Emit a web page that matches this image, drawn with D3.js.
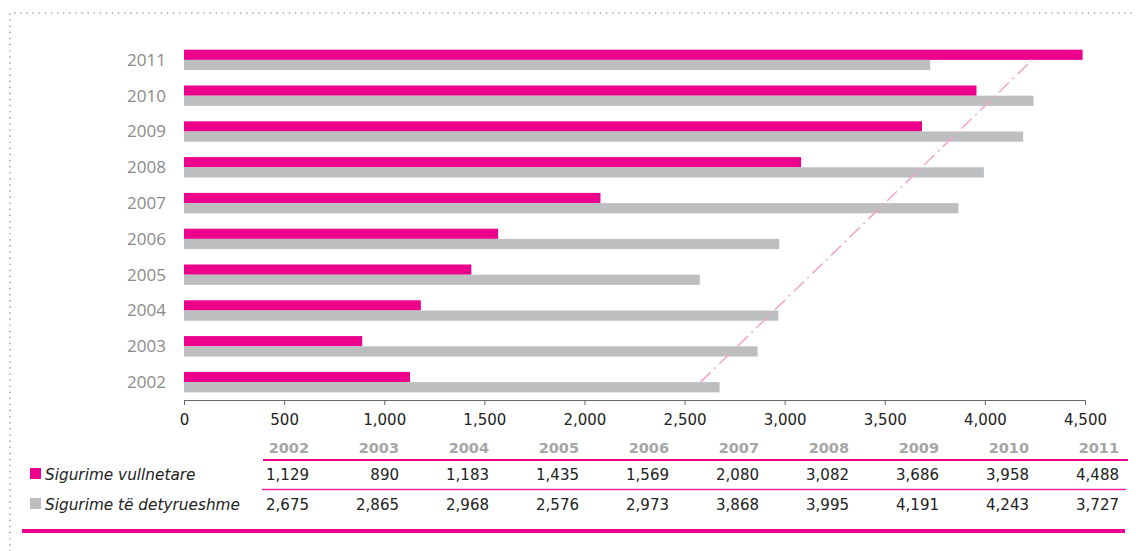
<!DOCTYPE html>
<html>
<head>
<meta charset="utf-8">
<script src="https://cdn.jsdelivr.net/npm/d3@7"></script>
<style>
  body { margin: 0; background: #fff; }
  svg { display: block; font-family: "DejaVu Sans", sans-serif; }
</style>
</head>
<body>
<div id="chart"></div>
<script>
// Daten
const years      = ['2002','2003','2004','2005','2006','2007','2008','2009','2010','2011'];
const vullnetare = [1129, 890, 1183, 1435, 1569, 2080, 3082, 3686, 3958, 4488];
const detyrueshme = [2675, 2865, 2968, 2576, 2973, 3868, 3995, 4191, 4243, 3727];
const seriesNames = ['Sigurime vullnetare', 'Sigurime të detyrueshme'];
const xTicks = [0, 500, 1000, 1500, 2000, 2500, 3000, 3500, 4000, 4500];

const PINK = '#ec008c', GREY = '#bcbec0';
const W = 1136, H = 551;

const svg = d3.select('#chart').append('svg')
  .attr('width', W).attr('height', H);

// gepunkteter Rahmen
svg.append('path')
  .attr('d', `M10,${H} L10,13 L${W},13`)
  .attr('fill', 'none')
  .attr('stroke', '#9a9a9a')
  .attr('stroke-width', 1.6)
  .attr('stroke-linecap', 'round')
  .attr('stroke-dasharray', '0.1,6');

// Skalen
const x = d3.scaleLinear().domain([0, 4500]).range([184, 1085]);
const y = d3.scaleBand().domain(years).range([400, 42]).paddingInner(0.43).paddingOuter(0.215);
const ySub = d3.scaleBand().domain([0, 1]).range([0, y.bandwidth()]);

// Achse unten
const xAxis = svg.append('g')
  .attr('transform', 'translate(0,400)')
  .call(d3.axisBottom(x).tickValues(xTicks).tickSize(5).tickSizeOuter(0).tickFormat(d3.format(',')));
xAxis.select('.domain').attr('stroke', '#666').attr('stroke-width', 1.2);
xAxis.selectAll('.tick line').attr('stroke', '#666');
xAxis.selectAll('.tick text')
  .attr('font-family', '"DejaVu Sans", sans-serif')
  .attr('font-size', 15).attr('fill', '#222').attr('dy', '1.15em');

// Jahreslabels links
svg.append('g').selectAll('text')
  .data(years).join('text')
  .attr('x', 166)
  .attr('y', d => y(d) + y.bandwidth() / 2)
  .attr('dy', '0.35em')
  .attr('text-anchor', 'end')
  .attr('font-family', '"Open Sans", sans-serif')
  .attr('font-size', 17)
  .attr('fill', '#8a8a8a')
  .text(d => d);

// Balken
const groups = svg.append('g').selectAll('g')
  .data(years).join('g')
  .attr('transform', d => `translate(0,${y(d)})`);

groups.append('rect')
  .attr('x', x(0))
  .attr('y', ySub(0))
  .attr('width', (d, i) => x(vullnetare[i]) - x(0))
  .attr('height', ySub.bandwidth())
  .attr('fill', PINK);

groups.append('rect')
  .attr('x', x(0))
  .attr('y', ySub(1))
  .attr('width', (d, i) => x(detyrueshme[i]) - x(0))
  .attr('height', ySub.bandwidth())
  .attr('fill', GREY);

// lineare Trendlinie der grauen Reihe
const n = years.length;
const mx = d3.mean(d3.range(n)), my = d3.mean(detyrueshme);
const slope = d3.sum(d3.range(n), i => (i - mx) * (detyrueshme[i] - my)) / d3.sum(d3.range(n), i => (i - mx) ** 2);
const icpt = my - slope * mx;
const trend = [0, n - 1].map(i => [x(icpt + slope * i), y(years[i]) + y.bandwidth() / 2]);
svg.append('path')
  .attr('d', d3.line()(trend))
  .attr('fill', 'none')
  .attr('stroke', '#f4a7cb')
  .attr('stroke-width', 1.6)
  .attr('stroke-dasharray', '14,5,2,5');

// Datentabelle
const col = d3.scaleBand().domain(years).range([220, 1120]);
const colRight = d => col(d) + col.bandwidth() - 1;

svg.append('g').selectAll('text')
  .data(years).join('text')
  .attr('x', colRight).attr('y', 453)
  .attr('text-anchor', 'end')
  .attr('font-size', 14.5).attr('font-weight', 'bold')
  .attr('fill', '#a6a6a6')
  .text(d => d);

svg.append('line').attr('x1', 263).attr('x2', 1128).attr('y1', 460).attr('y2', 460)
  .attr('stroke', PINK).attr('stroke-width', 2);
svg.append('line').attr('x1', 262).attr('x2', 1126).attr('y1', 489.5).attr('y2', 489.5)
  .attr('stroke', PINK).attr('stroke-width', 1.6).attr('opacity', 0.85);
svg.append('line').attr('x1', 22).attr('x2', 1125).attr('y1', 531).attr('y2', 531)
  .attr('stroke', PINK).attr('stroke-width', 4);

const rows = [vullnetare, detyrueshme];
const rowY = [480, 510];
rows.forEach((vals, r) => {
  svg.append('g').selectAll('text')
    .data(vals).join('text')
    .attr('x', (v, i) => colRight(years[i]))
    .attr('y', rowY[r])
    .attr('text-anchor', 'end')
    .attr('font-size', 15)
    .attr('fill', '#222')
    .text(d3.format(','));
  svg.append('rect')
    .attr('x', 30).attr('y', rowY[r] - 12)
    .attr('width', 11).attr('height', 11)
    .attr('fill', r === 0 ? PINK : GREY);
  svg.append('text')
    .attr('x', 45).attr('y', rowY[r])
    .attr('font-size', 15.3).attr('font-style', 'italic')
    .attr('fill', '#222')
    .text(seriesNames[r]);
});
</script>
</body>
</html>
